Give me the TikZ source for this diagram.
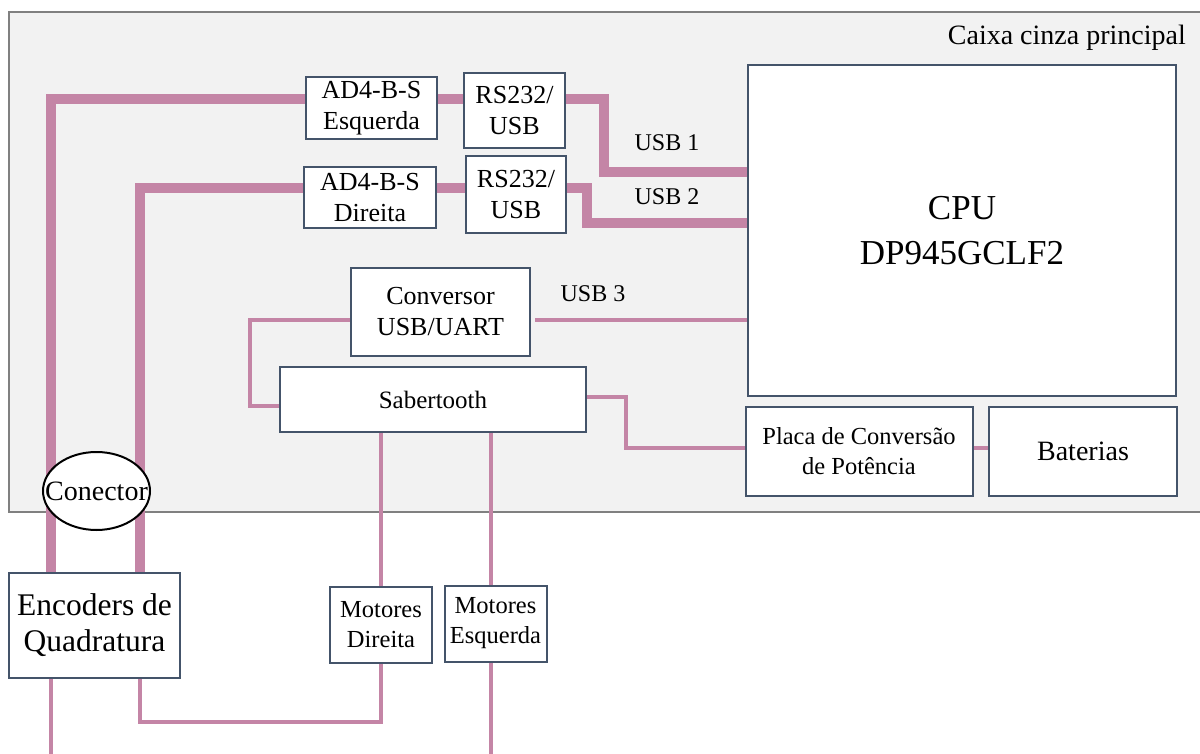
\documentclass[tikz,border=0pt]{standalone}
\usepackage{fontspec}
\setmainfont{Liberation Serif}
\usetikzlibrary{shapes.geometric}
\definecolor{wire}{RGB}{196,133,166}
\definecolor{boxc}{RGB}{68,84,106}
\definecolor{panel}{RGB}{242,242,242}
\definecolor{panelb}{RGB}{128,128,128}
\begin{document}
\begin{tikzpicture}[x=1pt,y=-1pt,
  blk/.style={draw=boxc, line width=2pt, fill=white, inner sep=0pt, align=center,
              font=\fontsize{26}{31}\selectfont},
  thickw/.style={draw=wire, line width=10pt},
  thinw/.style={draw=wire, line width=3.5pt},
  lbl/.style={inner sep=0pt, font=\fontsize{24}{28}\selectfont}]
\useasboundingbox (0,0) rectangle (1200,754);

% main grey panel
\node (main) [draw=panelb, fill=panel, line width=2pt, minimum width=1201pt, minimum height=500pt, inner sep=0pt] at (609.5,262) {};
\node (cap) [anchor=east, inner sep=0pt, font=\fontsize{28}{32}\selectfont] at (1186,38) {Caixa cinza principal};

% boxes (positions for wire anchors)
\path
  (371.5,108) node (ad4e) [blk, minimum width=131pt, minimum height=62pt] {}
  (514.5,110.5) node (rs1) [blk, minimum width=101pt, minimum height=75pt] {}
  (370,197.5) node (ad4d) [blk, minimum width=132pt, minimum height=61pt] {}
  (516,195) node (rs2) [blk, minimum width=100pt, minimum height=77pt] {}
  (440.5,312) node (conv) [blk, minimum width=179pt, minimum height=88pt] {}
  (433,399.5) node (sab) [blk, minimum width=306pt, minimum height=65pt] {}
  (962,230.5) node (cpu) [blk, minimum width=428pt, minimum height=331pt] {}
  (859,451) node (placa) [blk, minimum width=227pt, minimum height=89pt] {}
  (1083,451) node (bat) [blk, minimum width=188pt, minimum height=89pt] {}
  (94.5,625) node (enc) [blk, minimum width=171pt, minimum height=105pt] {}
  (381,624.5) node (motd) [blk, minimum width=102pt, minimum height=76pt] {}
  (495.5,623.5) node (mote) [blk, minimum width=102pt, minimum height=76pt] {};

% helper coordinates
\coordinate (yA) at (0,99);
\coordinate (yB) at (0,188);
\coordinate (xE1) at (51,0);
\coordinate (xE2) at (140,0);
\coordinate (xU1) at (604,0);
\coordinate (yU1) at (0,172);
\coordinate (xU2) at (587,0);
\coordinate (yU2) at (0,223);
\coordinate (yC) at (0,320);
\coordinate (x535) at (535,0);
\coordinate (xL) at (250,0);
\coordinate (yS1) at (0,406);
\coordinate (yS2) at (0,397);
\coordinate (xP) at (626,0);
\coordinate (yP) at (0,448);
\coordinate (xM1) at (381,0);
\coordinate (xM2) at (491,0);
\coordinate (yF) at (0,722);
\coordinate (endE) at (491,760);
\coordinate (endEnc) at (51,760);

% thick wires
\draw[thickw] (enc.north -| xE1) -- (xE1 |- yA) -- (ad4e.west |- yA);
\draw[thickw] (enc.north -| xE2) -- (xE2 |- yB) -- (ad4d.west |- yB);
\draw[thickw] (ad4e.east |- yA) -- (rs1.west |- yA);
\draw[thickw] (rs1.east |- yA) -- (xU1 |- yA) -- (xU1 |- yU1) -- (cpu.west |- yU1);
\draw[thickw] (ad4d.east |- yB) -- (rs2.west |- yB);
\draw[thickw] (rs2.east |- yB) -- (xU2 |- yB) -- (xU2 |- yU2) -- (cpu.west |- yU2);

% thin wires
\draw[thinw] (x535 |- yC) -- (cpu.west |- yC);
\draw[thinw] (conv.west |- yC) -- (xL |- yC) -- (xL |- yS1) -- (sab.west |- yS1);
\draw[thinw] (sab.east |- yS2) -- (xP |- yS2) -- (xP |- yP) -- (placa.west |- yP);
\draw[thinw] (placa.east |- yP) -- (bat.west |- yP);
\draw[thinw] (sab.south -| xM1) -- (motd.north -| xM1);
\draw[thinw] (sab.south -| xM2) -- (mote.north -| xM2);
\draw[thinw] (motd.south -| xM1) -- (xM1 |- yF) -- (xE2 |- yF) -- (enc.south -| xE2);
\draw[thinw] (mote.south -| xM2) -- (endE);
\draw[thinw] (enc.south -| xE1) -- (endEnc);

% boxes with text (redrawn on top of wires)
\node[blk, minimum width=131pt, minimum height=62pt] at (ad4e) {AD4-B-S\\Esquerda};
\node[blk, minimum width=101pt, minimum height=75pt] at (rs1) {RS232/\\USB};
\node[blk, minimum width=132pt, minimum height=61pt] at (ad4d) {AD4-B-S\\Direita};
\node[blk, minimum width=100pt, minimum height=77pt] at (rs2) {RS232/\\USB};
\node[blk, minimum width=179pt, minimum height=88pt] at (conv) {Conversor\\USB/UART};
\node[blk, minimum width=306pt, minimum height=65pt, font=\fontsize{25}{30}\selectfont] at (sab) {Sabertooth};
\node[blk, minimum width=428pt, minimum height=331pt, font=\fontsize{35}{45}\selectfont] at (cpu) {CPU\\DP945GCLF2};
\node[blk, minimum width=227pt, minimum height=89pt, font=\fontsize{24.5}{30}\selectfont] at (placa) {Placa de Conversão\\de Potência};
\node[blk, minimum width=188pt, minimum height=89pt, font=\fontsize{28}{32}\selectfont] at (bat) {Baterias};
\node[blk, minimum width=171pt, minimum height=105pt, font=\fontsize{31.5}{36}\selectfont] at (enc) {Encoders de\\Quadratura};
\node[blk, minimum width=102pt, minimum height=76pt, font=\fontsize{24.5}{30}\selectfont] at (motd) {Motores\\Direita};
\node[blk, minimum width=102pt, minimum height=76pt, font=\fontsize{24.5}{30}\selectfont] at (mote) {Motores\\Esquerda};

% connector ellipse
\node (con) [ellipse, draw=black, line width=2pt, fill=white, inner sep=0pt,
  minimum width=107pt, minimum height=78pt, font=\fontsize{28}{32}\selectfont]
  at (96.5,491) {\makebox[0pt]{Conector}};

% wire labels
\node (u1) [lbl] at (667,143) {USB 1};
\node (u2) [lbl] at (667,197) {USB 2};
\node (u3) [lbl] at (593,294) {USB 3};
\end{tikzpicture}
\end{document}
